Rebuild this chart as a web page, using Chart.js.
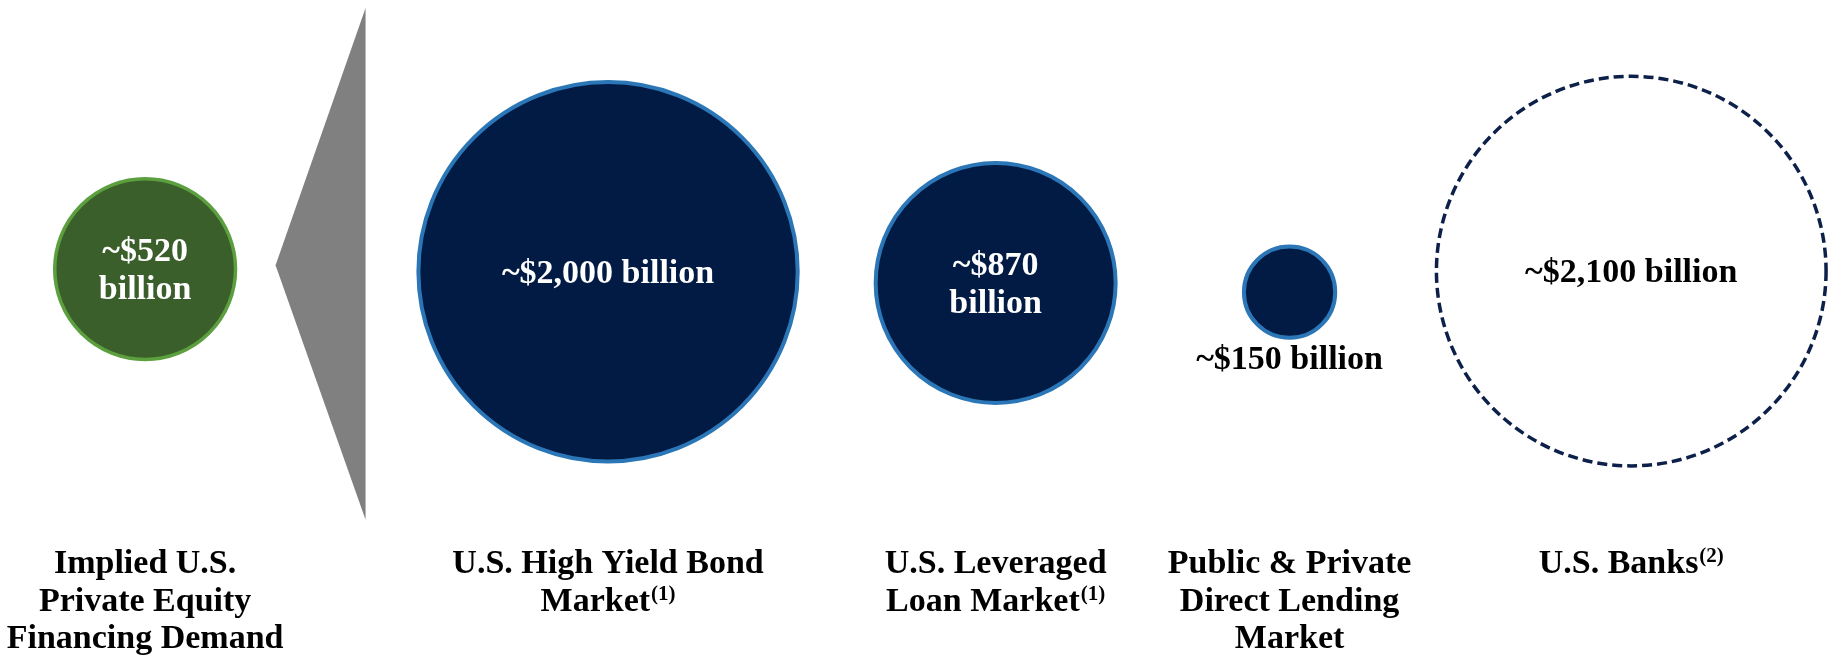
<!DOCTYPE html>
<html>
<head>
<meta charset="utf-8">
<script src="https://cdn.jsdelivr.net/npm/chart.js@4.4.1/dist/chart.umd.min.js"></script>
<style>
  html, body { margin: 0; padding: 0; background: #fff; }
  #wrap { width: 1837px; height: 658px; position: relative; }
</style>
</head>
<body>
<div id="wrap"><canvas id="chart"></canvas></div>
<script>
// Financing sources, $ billion
const categories = [
  ['Implied U.S.', 'Private Equity', 'Financing Demand'],
  ['U.S. High Yield Bond', 'Market'],
  ['U.S. Leveraged', 'Loan Market'],
  ['Public & Private', 'Direct Lending', 'Market'],
  ['U.S. Banks']
];
const footnotes = ['', '(1)', '(1)', '', '(2)'];
const volumes = [520, 2000, 870, 150, 2100];

// layout (percent of the canvas, x from left, y from top)
const slotX = [7.9, 33.1, 54.2, 70.2, 88.8];
const slotY = [40.9, 41.3, 43.0, 44.4, 41.2];
const labelTop = 87.1;
const labelLine = 37.5;
const wedge = { apex: [15.0, 40.3], top: [19.9, 1.2], bottom: [19.9, 79.0] };

// styles
const fills = ['#3a5f2a', '#021b44', '#021b44', '#021b44', 'rgba(255,255,255,0)'];
const strokes = ['#5c9f3e', '#2a76b7', '#2a76b7', '#2a76b7', '#0c2049'];
const strokeWidths = [3.5, 4, 4, 4, 3.5];
const dashes = [null, null, null, null, [10, 5]];
const valueModes = ['two', 'one', 'two', 'below', 'one'];
const valueColors = ['#ffffff', '#ffffff', '#ffffff', '#000000', '#000000'];
const FONT = "'Liberation Serif', 'Times New Roman', serif";

// bubble radius from the dollar amount
const sizeFor = v => 2.9 * Math.pow(v, 0.55);
const money = v => '~$' + v.toLocaleString('en-US');

const datasets = volumes.map((v, i) => ({
  label: categories[i].join(' '),
  data: [{ x: slotX[i], y: slotY[i], r: sizeFor(v) }],
  backgroundColor: fills[i],
  borderColor: strokes[i],
  borderWidth: strokeWidths[i],
  clip: false,
  ringDash: dashes[i]
}));

const dashRing = {
  id: 'dashRing',
  beforeDatasetDraw(chart, args) {
    const d = chart.data.datasets[args.index].ringDash;
    if (d) chart.ctx.setLineDash(d);
  },
  afterDatasetDraw(chart) {
    chart.ctx.setLineDash([]);
  }
};

const wedgeShape = {
  id: 'wedgeShape',
  beforeDatasetsDraw(chart) {
    const { ctx, scales: { x, y } } = chart;
    const p = pt => [x.getPixelForValue(pt[0]), y.getPixelForValue(pt[1])];
    const a = p(wedge.apex), t = p(wedge.top), b = p(wedge.bottom);
    ctx.save();
    ctx.fillStyle = '#808080';
    ctx.beginPath();
    ctx.moveTo(a[0], a[1]);
    ctx.lineTo(t[0], t[1]);
    ctx.lineTo(b[0], b[1]);
    ctx.closePath();
    ctx.fill();
    ctx.restore();
  }
};

const textLabels = {
  id: 'textLabels',
  afterDatasetsDraw(chart) {
    const { ctx, scales: { y } } = chart;
    ctx.save();
    volumes.forEach((v, i) => {
      const el = chart.getDatasetMeta(i).data[0];
      const cx = el.x, cy = el.y, r = el.options.radius;

      // amount inside / below the bubble
      ctx.font = 'bold 34px ' + FONT;
      ctx.textAlign = 'center';
      ctx.textBaseline = 'alphabetic';
      ctx.fillStyle = valueColors[i];
      const mode = valueModes[i];
      if (mode === 'two') {
        ctx.fillText(money(v), cx, cy - 8);
        ctx.fillText('billion', cx, cy + 30);
      } else if (mode === 'one') {
        ctx.fillText(money(v) + ' billion', cx, cy + 11);
      } else {
        ctx.fillText(money(v) + ' billion', cx, cy + r + 31);
      }

      // category name under the bubble
      ctx.fillStyle = '#000000';
      ctx.textAlign = 'left';
      const lines = categories[i];
      const base = y.getPixelForValue(labelTop);
      lines.forEach((line, k) => {
        const by = base + k * labelLine;
        const note = k === lines.length - 1 ? footnotes[i] : '';
        ctx.font = 'bold 34px ' + FONT;
        const w = ctx.measureText(line).width;
        ctx.font = 'bold 21px ' + FONT;
        const nw = note ? ctx.measureText(note).width + 1 : 0;
        const left = cx - (w + nw) / 2;
        ctx.font = 'bold 34px ' + FONT;
        ctx.fillText(line, left, by);
        if (note) {
          ctx.font = 'bold 21px ' + FONT;
          ctx.fillText(note, left + w + 1, by - 11);
        }
      });
    });
    ctx.restore();
  }
};

new Chart(document.getElementById('chart'), {
  type: 'bubble',
  data: { datasets },
  options: {
    responsive: true,
    maintainAspectRatio: false,
    animation: false,
    events: [],
    layout: { padding: 0, autoPadding: false },
    plugins: {
      legend: { display: false },
      tooltip: { enabled: false }
    },
    scales: {
      x: { type: 'linear', min: 0, max: 100, display: false },
      y: { type: 'linear', min: 0, max: 100, reverse: true, display: false }
    }
  },
  plugins: [dashRing, wedgeShape, textLabels]
});
</script>
</body>
</html>
